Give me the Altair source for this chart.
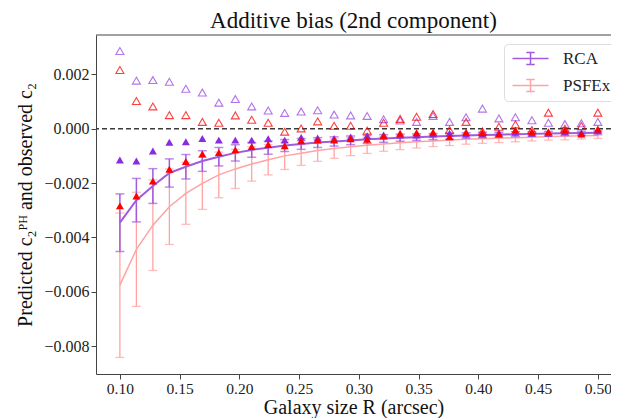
import altair as alt
import pandas as pd

# ---- data ----
R = [0.1000, 0.1138, 0.1276, 0.1414, 0.1552, 0.1690, 0.1828, 0.1966, 0.2103, 0.2241,
     0.2379, 0.2517, 0.2655, 0.2793, 0.2931, 0.3069, 0.3207, 0.3345, 0.3483, 0.3621,
     0.3759, 0.3897, 0.4034, 0.4172, 0.4310, 0.4448, 0.4586, 0.4724, 0.4862, 0.5000]

rca_pred = [-0.00346, -0.00263, -0.00211, -0.00163, -0.00140, -0.00119, -0.00103, -0.00089, -0.00078, -0.00070,
            -0.00062, -0.00056, -0.00051, -0.00047, -0.00043, -0.00039, -0.00036, -0.00033, -0.00031, -0.00029,
            -0.00027, -0.00025, -0.00023, -0.00022, -0.00020, -0.00019, -0.00018, -0.00017, -0.00016, -0.00015]
rca_err = [0.00106, 0.00080, 0.00064, 0.00052, 0.00045, 0.00038, 0.00034, 0.00030, 0.00027, 0.00024,
           0.00022, 0.00020, 0.00018, 0.00017, 0.00016, 0.00015, 0.00014, 0.00013, 0.00012, 0.00011,
           0.00011, 0.00010, 0.00010, 0.00009, 0.00009, 0.00008, 0.00008, 0.00008, 0.00007, 0.00007]

psf_pred = [-0.00576, -0.00444, -0.00355, -0.00287, -0.00238, -0.00201, -0.00170, -0.00148, -0.00130, -0.00114,
            -0.00100, -0.00090, -0.00080, -0.00073, -0.00066, -0.00061, -0.00056, -0.00052, -0.00048, -0.00045,
            -0.00042, -0.00039, -0.00037, -0.00035, -0.00033, -0.00031, -0.00029, -0.00028, -0.00026, -0.00025]
psf_err = [0.00266, 0.00210, 0.00167, 0.00139, 0.00114, 0.00096, 0.00084, 0.00072, 0.00063, 0.00056,
           0.00050, 0.00045, 0.00040, 0.00036, 0.00033, 0.00030, 0.00027, 0.00025, 0.00023, 0.00021,
           0.00020, 0.00018, 0.00017, 0.00016, 0.00015, 0.00014, 0.00013, 0.00013, 0.00012, 0.00011]

rca_open = [0.00286, 0.00177, 0.00179, 0.00173, 0.00147, 0.00133, 0.00096, 0.00109, 0.00082, 0.00067,
            0.00058, 0.00063, 0.00068, 0.00052, 0.00049, 0.00047, 0.00035, 0.00030, 0.00025, 0.00047,
            0.00025, 0.00042, 0.00074, 0.00038, 0.00042, 0.00031, 0.00022, 0.00017, 0.00020, 0.00025]
psf_open = [0.00216, 0.00102, 0.00082, 0.00050, 0.00050, 0.00025, 0.00022, 0.00049, 0.00033, 0.00022,
            -0.00011, 0.00001, 0.00027, 0.00011, 0.00011, -0.00007, 0.00022, 0.00036, 0.00044, 0.00054,
            -0.00005, 0.00025, -0.00010, 0.00007, 0.00016, -0.00005, 0.00059, 0.00000, 0.00010, 0.00059]

rca_fill = [-0.00115, -0.00119, -0.00082, -0.00050, -0.00048, -0.00036, -0.00042, -0.00042, -0.00042, -0.00037,
            -0.00042, -0.00032, -0.00034, -0.00036, -0.00030, -0.00026, -0.00023, -0.00023, -0.00023, -0.00020,
            -0.00017, -0.00020, -0.00020, -0.00015, -0.00013, -0.00017, -0.00017, -0.00011, -0.00015, -0.00007]
psf_fill = [-0.00284, -0.00248, -0.00193, -0.00149, -0.00121, -0.00093, -0.00088, -0.00078, -0.00066, -0.00058,
            -0.00063, -0.00044, -0.00042, -0.00042, -0.00037, -0.00039, -0.00027, -0.00017, -0.00015, -0.00013,
            -0.00030, -0.00013, -0.00015, -0.00020, -0.00005, -0.00011, -0.00011, -0.00005, -0.00020, -0.00001]

methods = ["RCA", "PSFEx"]
line_colors = ["#a15bdc", "#ffa3a3"]
FONT = "Liberation Serif"

# ---- tables ----
pred = pd.concat([
    pd.DataFrame({"R": R, "method": "PSFEx", "pred": psf_pred,
                  "lo": [p - e for p, e in zip(psf_pred, psf_err)],
                  "hi": [p + e for p, e in zip(psf_pred, psf_err)]}),
    pd.DataFrame({"R": R, "method": "RCA", "pred": rca_pred,
                  "lo": [p - e for p, e in zip(rca_pred, rca_err)],
                  "hi": [p + e for p, e in zip(rca_pred, rca_err)]}),
])
obs = pd.DataFrame({"R": R, "rca_open": rca_open, "psf_open": psf_open,
                    "rca_fill": rca_fill, "psf_fill": psf_fill})

XMIN, XMAX = 0.08, 0.5110
YMIN, YMAX = -0.00903, 0.00345
xs = alt.Scale(domain=[XMIN, XMAX], nice=False, zero=False)
ys = alt.Scale(domain=[YMIN, YMAX], nice=False, zero=False)

YTITLE = "Predicted c₂ᴾᴴ and observed c₂"
xax = alt.Axis(values=[0.10, 0.15, 0.20, 0.25, 0.30, 0.35, 0.40, 0.45, 0.50], format=".2f",
               title="Galaxy size R (arcsec)", grid=False, labelFont=FONT, titleFont=FONT,
               labelFontSize=15.5, titleFontSize=20, titlePadding=1)
yax = alt.Axis(values=[-0.008, -0.006, -0.004, -0.002, 0.0, 0.002], format=".3f",
               title=YTITLE, grid=False, labelFont=FONT, titleFont=FONT,
               labelFontSize=16, titleFontSize=20, titlePadding=8)

X = alt.X("R:Q", scale=xs, axis=xax)


def Y(field):
    return alt.Y(field, scale=ys, axis=yax, title=YTITLE)


cscale = alt.Scale(domain=methods, range=line_colors)

base = alt.Chart(pred)

lines_psf = base.transform_filter(alt.datum.method == "PSFEx").mark_line(strokeWidth=1.5).encode(
    x=X, y=Y("pred:Q"),
    color=alt.Color("method:N", scale=cscale, legend=alt.Legend(
        title=None, orient="none", legendX=408, legendY=9)),
)
err_psf = base.transform_filter(alt.datum.method == "PSFEx").mark_errorbar(
    ticks={"size": 9}, thickness=1.3).encode(
    x=X, y=Y("lo:Q"), y2="hi:Q",
    color=alt.Color("method:N", scale=cscale, legend=None),
)
lines_rca = base.transform_filter(alt.datum.method == "RCA").mark_line(strokeWidth=2).encode(
    x=X, y=Y("pred:Q"),
    color=alt.Color("method:N", scale=cscale),
)
err_rca = base.transform_filter(alt.datum.method == "RCA").mark_errorbar(
    ticks={"size": 9}, thickness=1.5).encode(
    x=X, y=Y("lo:Q"), y2="hi:Q",
    color=alt.Color("method:N", scale=cscale, legend=None),
)

zero = alt.Chart(pd.DataFrame({"y": [0.0]})).mark_rule(
    color="#3a3a3a", strokeDash=[5, 3], strokeWidth=1.4).encode(y=Y("y:Q"))
top = alt.Chart(pd.DataFrame({"y": [YMAX]})).mark_rule(
    color="#444444", strokeWidth=1).encode(y=Y("y:Q"))

ob = alt.Chart(obs)
TS = 64
open_rca = ob.mark_point(shape="triangle-up", filled=False, size=TS, strokeWidth=1.1,
                         color="blueviolet", opacity=0.65).encode(x=X, y=Y("rca_open:Q"))
open_psf = ob.mark_point(shape="triangle-up", filled=False, size=TS, strokeWidth=1.1,
                         color="red", opacity=0.75).encode(x=X, y=Y("psf_open:Q"))
fill_rca = ob.mark_point(shape="triangle-up", filled=True, size=TS, opacity=1,
                         color="blueviolet").encode(x=X, y=Y("rca_fill:Q"))
fill_psf = ob.mark_point(shape="triangle-up", filled=True, size=TS, opacity=1,
                         color="red").encode(x=X, y=Y("psf_fill:Q"))

chart = alt.layer(
    lines_psf, zero, top, err_psf, lines_rca, err_rca, open_rca, open_psf, fill_rca, fill_psf
).properties(
    width=515, height=339,
    title=alt.TitleParams("Additive bias (2nd component)", fontSize=23, font=FONT,
                          fontWeight="normal", color="#111111", offset=2),
    autosize=alt.AutoSizeParams(type="none"),
    padding={"left": 88, "top": 27, "right": 0, "bottom": 44},
).configure_view(stroke=None).configure_axis(
    labelColor="#222222", titleColor="#111111", domainColor="#444444", tickColor="#444444",
    tickSize=5, labelPadding=2, titleFontWeight="normal", domainWidth=1,
).configure_legend(
    labelFont=FONT, labelFontSize=17, labelColor="#222222",
    symbolType="M-1,0L5,0M2,-1L2,1M1.3,-1L2.7,-1M1.3,1L2.7,1",
    symbolSize=144, symbolStrokeWidth=1.5, labelOffset=36, rowPadding=8, padding=6,
    strokeColor="#dddddd", fillColor="white", cornerRadius=4,
)

chart.save("out.html", embed_options={"renderer": "svg", "actions": False})
